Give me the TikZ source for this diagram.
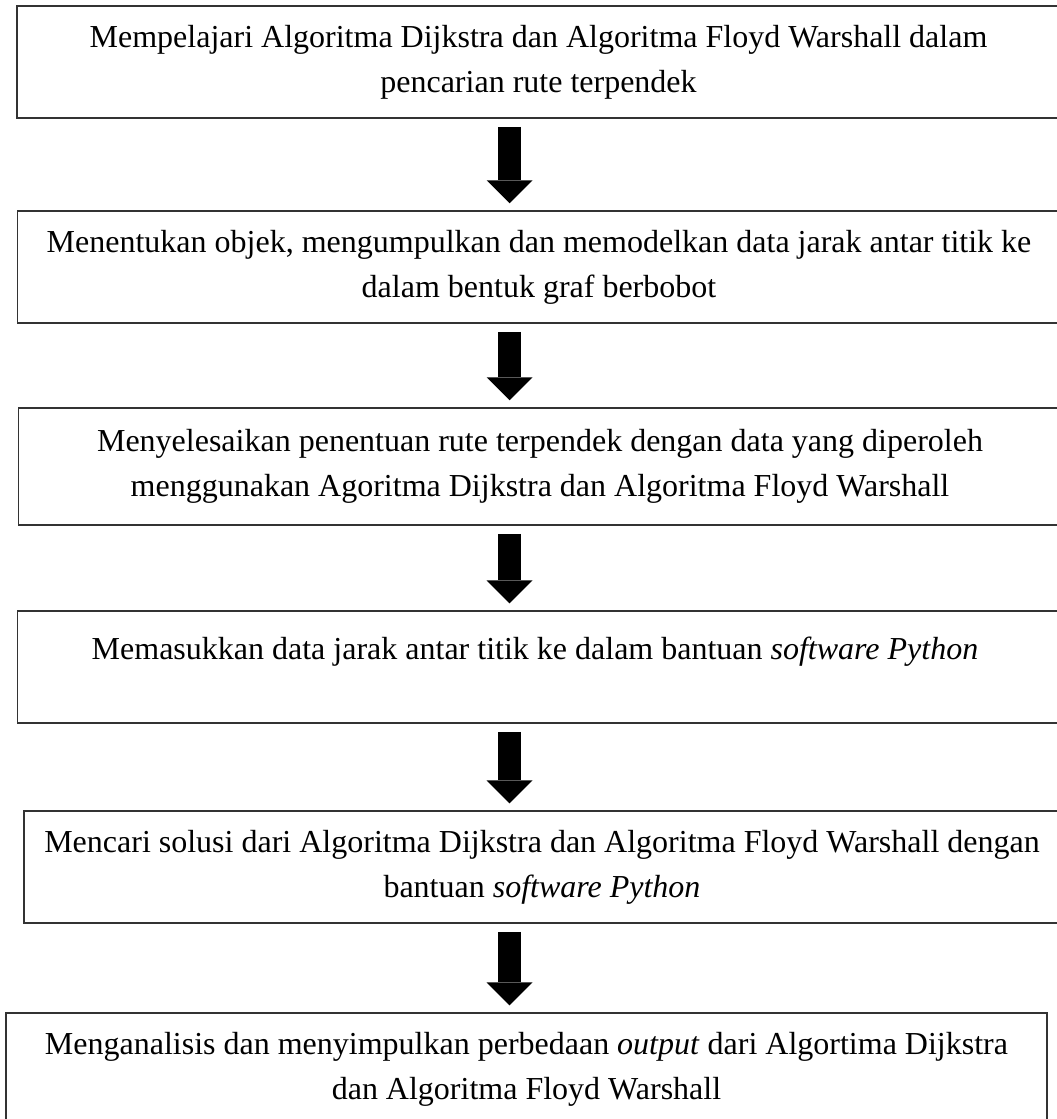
\documentclass[tikz,border=0pt]{standalone}
\usepackage{fontspec}
\setmainfont{Liberation Serif}
\usepackage{tikz}
\usetikzlibrary{arrows.meta,positioning}
\tikzset{
    box/.style={draw=black!80, line width=1.5pt, align=center, inner sep=0pt,
        minimum height=112pt, minimum width=1043pt,
        font=\fontsize{32pt}{45pt}\selectfont},
    flow/.style={line width=23pt, shorten <=8pt, shorten >=7pt,
        -{Triangle[width=46pt,length=23pt,line width=0pt]}}
}

\begin{document}
\begin{tikzpicture}[x=1pt,y=-1pt]
\useasboundingbox (0,0) rectangle (1057,1119);
\clip (0,0) rectangle (1057,1119);

\coordinate (ax) at (509.5,0);

\node[box] (learn) at (538.5,62) {%
    Mempelajari Algoritma Dijkstra dan Algoritma Floyd Warshall dalam\\
    pencarian rute terpendek
};
\node[box] (model) at (539,267) {%
    Menentukan objek, mengumpulkan dan memodelkan data jarak antar titik ke\\
    dalam bentuk graf berbobot
};
\node[box, minimum height=117pt] (solve) at (540,466.5) {%
    Menyelesaikan penentuan rute terpendek dengan data yang diperoleh\\
    menggunakan Agoritma Dijkstra dan Algoritma Floyd Warshall
};
\node[box, text depth=37pt] (input) at (539,667) {%
    Memasukkan data jarak antar titik ke dalam bantuan \textit{software Python}
};
\node[box, minimum width=1036pt] (python) at (542,867) {%
    Mencari solusi dari Algoritma Dijkstra dan Algoritma Floyd Warshall dengan\\
    bantuan \textit{software Python}
};
\node[box, minimum width=1041pt] (result) at (526.5,1069) {%
    Menganalisis dan menyimpulkan perbedaan \textit{output} dari Algortima Dijkstra\\
    dan Algoritma Floyd Warshall
};

\draw[flow] (learn.south -| ax) -- (model.north -| ax);
\draw[flow] (model.south -| ax) -- (solve.north -| ax);
\draw[flow] (solve.south -| ax) -- (input.north -| ax);
\draw[flow] (input.south -| ax) -- (python.north -| ax);
\draw[flow] (python.south -| ax) -- (result.north -| ax);
\end{tikzpicture}
\end{document}
